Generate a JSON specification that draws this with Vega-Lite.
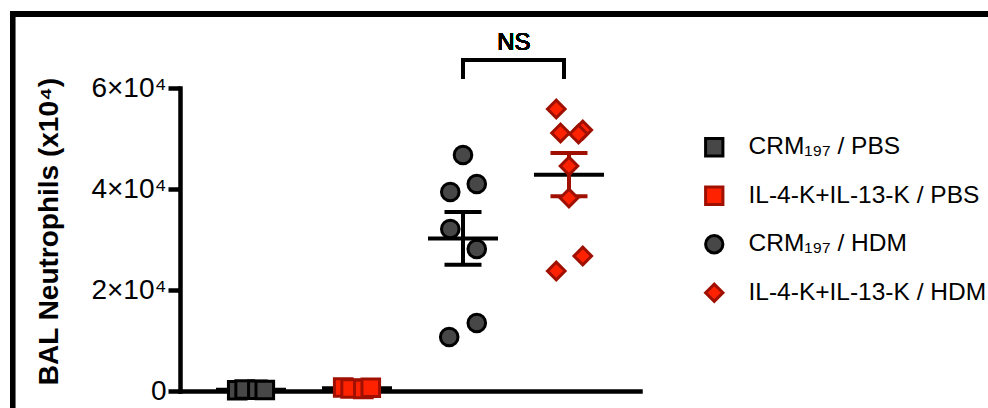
{
  "$schema": "https://vega.github.io/schema/vega-lite/v6.json",
  "width": 460,
  "height": 303,
  "autosize": {"type": "none"},
  "padding": {"left": 180, "top": 88, "right": 348, "bottom": 17},
  "background": "white",
  "config": {
    "view": {"stroke": null},
    "font": "Liberation Sans",
    "axisX": {"grid": false, "domainColor": "black", "domainWidth": 4.5, "domainCap": "square", "ticks": false, "labels": false},
    "axisY": {
      "grid": false, "domainColor": "black", "domainWidth": 4.5, "domainCap": "square",
      "tickColor": "black", "tickWidth": 4.5, "tickSize": 12, "tickCount": 3,
      "labelFontSize": 28, "labelColor": "black", "labelPadding": 2, "labelFont": "Liberation Sans",
      "labelExpr": "datum.value == 0 ? '0' : (datum.value / 10000) + '×10⁴'",
      "titleFontSize": 28, "titleFontWeight": "bold", "titleColor": "black", "titleFont": "Liberation Sans",
      "titleX": -131, "titleY": 143, "titleAngle": -90, "titleAlign": "center", "titleBaseline": "middle"
    },
    "legend": {
      "orient": "none", "legendX": 522, "legendY": 47, "padding": 0,
      "symbolSize": 300, "symbolStrokeWidth": 3, "labelFontSize": 24.5, "labelColor": "black",
      "labelFont": "Liberation Sans", "labelOffset": 22, "rowPadding": 18.5, "labelLimit": 400
    }
  },
  "datasets": {
    "points": [
      {"group": "CRM₁₉₇ / PBS", "g": 0, "x": -0.13, "value": 150},
      {"group": "CRM₁₉₇ / PBS", "g": 0, "x": -0.06, "value": 300},
      {"group": "CRM₁₉₇ / PBS", "g": 0, "x": 0.06, "value": 250},
      {"group": "CRM₁₉₇ / PBS", "g": 0, "x": 0.13, "value": 200},
      {"group": "IL-4-K+IL-13-K / PBS", "g": 1, "x": 0.87, "value": 700},
      {"group": "IL-4-K+IL-13-K / PBS", "g": 1, "x": 0.94, "value": 500},
      {"group": "IL-4-K+IL-13-K / PBS", "g": 1, "x": 1.06, "value": 400},
      {"group": "IL-4-K+IL-13-K / PBS", "g": 1, "x": 1.13, "value": 650},
      {"group": "CRM₁₉₇ / HDM", "g": 2, "x": 2.0, "value": 46733},
      {"group": "CRM₁₉₇ / HDM", "g": 2, "x": 2.13, "value": 40990},
      {"group": "CRM₁₉₇ / HDM", "g": 2, "x": 1.88, "value": 39406},
      {"group": "CRM₁₉₇ / HDM", "g": 2, "x": 1.88, "value": 32079},
      {"group": "CRM₁₉₇ / HDM", "g": 2, "x": 2.13, "value": 28119},
      {"group": "CRM₁₉₇ / HDM", "g": 2, "x": 2.13, "value": 13465},
      {"group": "CRM₁₉₇ / HDM", "g": 2, "x": 1.87, "value": 10693},
      {"group": "IL-4-K+IL-13-K / HDM", "g": 3, "x": 2.88, "value": 55842},
      {"group": "IL-4-K+IL-13-K / HDM", "g": 3, "x": 2.92, "value": 51089},
      {"group": "IL-4-K+IL-13-K / HDM", "g": 3, "x": 3.13, "value": 51683},
      {"group": "IL-4-K+IL-13-K / HDM", "g": 3, "x": 3.09, "value": 50891},
      {"group": "IL-4-K+IL-13-K / HDM", "g": 3, "x": 3.0, "value": 44554},
      {"group": "IL-4-K+IL-13-K / HDM", "g": 3, "x": 3.0, "value": 38218},
      {"group": "IL-4-K+IL-13-K / HDM", "g": 3, "x": 3.13, "value": 26733},
      {"group": "IL-4-K+IL-13-K / HDM", "g": 3, "x": 2.88, "value": 23762}
    ]
  },
  "data": {"name": "points"},
  "layer": [
    {
      "mark": {"type": "rect", "fillOpacity": 0, "stroke": "black", "strokeWidth": 5},
      "encoding": {
        "x": {"datum": -2.25, "type": "quantitative", "title": null, "scale": {"domain": [-0.67, 3.67], "nice": false, "zero": false}},
        "x2": {"datum": 8},
        "y": {"datum": 74653, "type": "quantitative", "title": "BAL Neutrophils (x10⁴)", "scale": {"domain": [0, 60000], "nice": false}},
        "y2": {"datum": -20000}
      }
    },
    {
      "mark": {"type": "rule", "stroke": "black", "strokeWidth": 3, "strokeCap": "square"},
      "encoding": {
        "x": {"datum": 2, "type": "quantitative", "title": null},
        "x2": {"datum": 2.95},
        "y": {"datum": 65545, "type": "quantitative", "title": "BAL Neutrophils (x10⁴)"}
      }
    },
    {
      "mark": {"type": "rule", "stroke": "black", "strokeWidth": 3, "strokeCap": "square"},
      "encoding": {
        "x": {"datum": 2, "type": "quantitative", "title": null},
        "y": {"datum": 62178, "type": "quantitative", "title": "BAL Neutrophils (x10⁴)"},
        "y2": {"datum": 65545}
      }
    },
    {
      "mark": {"type": "rule", "stroke": "black", "strokeWidth": 3, "strokeCap": "square"},
      "encoding": {
        "x": {"datum": 2.95, "type": "quantitative", "title": null},
        "y": {"datum": 62178, "type": "quantitative", "title": "BAL Neutrophils (x10⁴)"},
        "y2": {"datum": 65545}
      }
    },
    {
      "mark": {"type": "text", "text": "NS", "fontSize": 24, "font": "Liberation Sans", "color": "black", "align": "center", "baseline": "middle"},
      "encoding": {
        "x": {"datum": 2.48, "type": "quantitative", "title": null},
        "y": {"datum": 68911, "type": "quantitative", "title": "BAL Neutrophils (x10⁴)"}
      }
    },
    {
      "mark": {"type": "tick", "orient": "horizontal", "size": 70, "thickness": 4, "color": "black", "opacity": 1},
      "encoding": {
        "x": {"field": "g", "type": "quantitative", "title": null},
        "y": {"aggregate": "mean", "field": "value", "type": "quantitative", "title": "BAL Neutrophils (x10⁴)"}
      }
    },
    {
      "transform": [{"filter": "datum.g == 0 || datum.g == 2"}],
      "mark": {"type": "errorbar", "extent": "stderr", "orient": "vertical", "thickness": 4, "color": "black", "opacity": 1, "rule": {"opacity": 1}, "ticks": {"size": 37, "thickness": 4, "opacity": 1}},
      "encoding": {
        "x": {"field": "g", "type": "quantitative", "title": null},
        "y": {"field": "value", "type": "quantitative", "title": "BAL Neutrophils (x10⁴)"}
      }
    },
    {
      "transform": [{"filter": "datum.g == 1 || datum.g == 3"}],
      "mark": {"type": "errorbar", "extent": "stderr", "orient": "vertical", "thickness": 4, "color": "#a01000", "opacity": 1, "rule": {"opacity": 1}, "ticks": {"size": 37, "thickness": 4, "opacity": 1}},
      "encoding": {
        "x": {"field": "g", "type": "quantitative", "title": null},
        "y": {"field": "value", "type": "quantitative", "title": "BAL Neutrophils (x10⁴)"}
      }
    },
    {
      "mark": {"type": "point", "filled": true, "size": 310, "strokeWidth": 3, "opacity": 1, "fillOpacity": 1},
      "encoding": {
        "x": {"field": "x", "type": "quantitative", "title": null},
        "y": {"field": "value", "type": "quantitative", "title": "BAL Neutrophils (x10⁴)"},
        "shape": {
          "field": "group", "type": "nominal", "title": null,
          "scale": {"domain": ["CRM₁₉₇ / PBS", "IL-4-K+IL-13-K / PBS", "CRM₁₉₇ / HDM", "IL-4-K+IL-13-K / HDM"], "range": ["square", "square", "circle", "diamond"]}
        },
        "fill": {
          "field": "group", "type": "nominal", "title": null,
          "scale": {"domain": ["CRM₁₉₇ / PBS", "IL-4-K+IL-13-K / PBS", "CRM₁₉₇ / HDM", "IL-4-K+IL-13-K / HDM"], "range": ["#474747", "#ff2200", "#474747", "#ff2200"]}
        },
        "stroke": {
          "field": "group", "type": "nominal", "title": null,
          "scale": {"domain": ["CRM₁₉₇ / PBS", "IL-4-K+IL-13-K / PBS", "CRM₁₉₇ / HDM", "IL-4-K+IL-13-K / HDM"], "range": ["black", "#a01000", "black", "#a01000"]}
        }
      }
    }
  ]
}
